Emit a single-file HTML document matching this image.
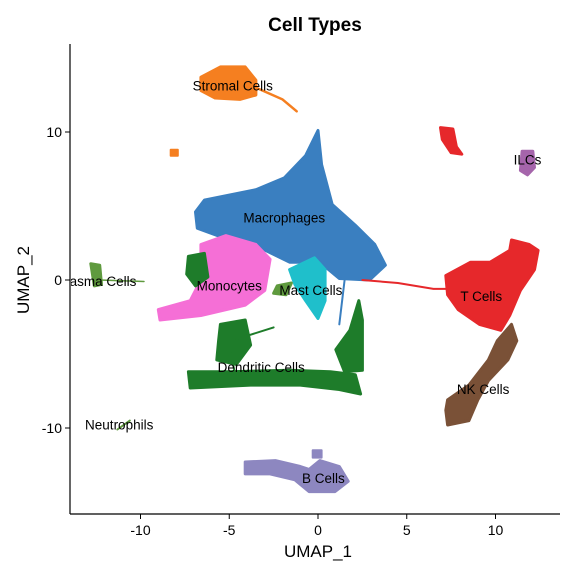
<!DOCTYPE html>
<html><head><meta charset="utf-8"><style>
body{margin:0;background:#fff}
svg{display:block;font-family:"Liberation Sans",Arial,sans-serif}
</style></head><body>
<svg id="chart" width="576" height="576" viewBox="0 0 576 576">
<defs><clipPath id="plotclip"><rect x="71" y="40" width="500" height="474"/></clipPath></defs>
<text x="315" y="31" text-anchor="middle" font-size="19" font-weight="bold">Cell Types</text>
<g id="marks" clip-path="url(#plotclip)"></g>
<g id="labels" clip-path="url(#plotclip)"></g>
<line x1="70" y1="44" x2="70" y2="514" stroke="#000" stroke-width="1.2"/>
<line x1="70" y1="514" x2="560" y2="514" stroke="#000" stroke-width="1.2"/>
<g id="axes"></g>
<text x="318" y="557" text-anchor="middle" font-size="17">UMAP_1</text>
<text x="29" y="280" text-anchor="middle" font-size="17" transform="rotate(-90 29 280)">UMAP_2</text>
</svg>
<script>
const xTicks = [-10, -5, 0, 5, 10];
const yTicks = [-10, 0, 10];
const clusterNames = ["Macrophages","Monocytes","Dendritic Cells","Mast Cells","T Cells","NK Cells","ILCs","B Cells","Stromal Cells","Plasma Cells","Neutrophils"];
const clusterColors = ["#3A7FC0","#F56FD6","#1E7C2A","#1FBFCB","#E6282B","#7A5137","#A565AB","#8D87C0","#F57F20","#5F9A3E","#5F9A3E"];
const macrophagePoly = [[-6.9,4.6],[-6.4,5.4],[-3.5,6.1],[-1.9,6.9],[-0.7,8.4],[0,10.1],[0.2,7.8],[0.8,5.1],[2.1,3.7],[3.2,2.4],[3.8,1.0],[2.9,0],[1.2,0.1],[0.1,1.2],[-1.6,1.2],[-3.3,2.2],[-5.2,2.8],[-6.8,3.5]];
const monocytePoly = [[-6.6,2.4],[-5.2,3.0],[-3.5,2.4],[-2.7,1.4],[-3.0,-0.7],[-4.1,-1.7],[-6.6,-2.4],[-8.9,-2.7],[-9.0,-2.0],[-7.2,-1.4],[-6.6,0],[-6.6,1.4]];
const dendriticBlob = [[-5.5,-3.0],[-4.1,-2.7],[-3.8,-4.4],[-4.6,-5.7],[-5.7,-5.4],[-5.6,-4.1]];
const dendriticBand = [[-7.3,-6.2],[-5.0,-6.2],[-1.6,-6.1],[0.7,-6.2],[2.1,-6.4],[2.4,-7.7],[1.2,-7.4],[-1.0,-7.1],[-3.8,-7.1],[-7.2,-7.3]];
const dendriticArm = [[1.0,-4.7],[1.8,-3.4],[2.3,-1.4],[2.5,-2.7],[2.5,-6.1],[1.5,-6.2]];
const dendriticLeft = [[-7.3,1.6],[-6.4,1.8],[-6.2,0.2],[-6.9,-0.4],[-7.4,0.4]];
const mastPoly = [[-1.6,0.7],[-0.2,1.5],[0.4,0.7],[0.4,-1.4],[0,-2.6],[-0.7,-1.4],[-1.3,-0.3]];
const tcellPoly = [[7.2,0.3],[8.6,1.2],[9.7,1.2],[10.8,2.0],[10.9,2.7],[11.9,2.4],[12.4,2.0],[12.2,0.7],[11.4,-0.7],[10.8,-2.4],[10.3,-3.4],[9.1,-3.0],[7.9,-2.0],[7.3,-1.0]];
const tcellTail = [[2.5,0],[4.5,-0.2],[6.5,-0.6],[7.5,-0.6]];
const tcellTop = [[6.9,10.3],[7.6,10.2],[7.8,9.0],[8.1,8.5],[7.5,8.6],[7.0,9.5]];
const nkPoly = [[7.3,-8.1],[8.5,-7.1],[9.6,-5.4],[10.1,-4.1],[10.9,-3.0],[11.2,-4.1],[10.7,-5.4],[9.6,-6.8],[9.0,-8.1],[8.5,-9.5],[7.3,-9.8],[7.2,-8.8]];
const ilcPoly = [[11.5,8.7],[12.1,8.7],[12.2,7.6],[11.8,7.1],[11.4,7.4]];
const bcellPoly = [[-4.1,-12.3],[-2.4,-12.2],[-1.0,-12.6],[-0.5,-12.8],[0.1,-12.2],[1.2,-12.6],[1.7,-13.6],[0.96,-14.3],[-0.5,-14.3],[-1.3,-13.5],[-2.7,-13.1],[-4.1,-13.1]];
const stromalPoly = [[-6.6,13.7],[-5.5,14.4],[-4.1,14.4],[-3.5,13.5],[-3.5,12.5],[-4.4,12.2],[-5.8,12.3],[-6.6,12.8]];
const stromalTail = [[-3.5,13.0],[-2.0,12.2],[-1.2,11.4]];
const plasmaPoly = [[-12.8,1.1],[-12.3,1.0],[-12.2,-0.3],[-12.6,-0.4]];
const plasmaTail = [[-12.3,0],[-9.8,-0.1]];
const neutroLine = [[-11.3,-10.1],[-10.6,-9.5]];
const labelText = ["Stromal Cells","Macrophages","Monocytes","Mast Cells","Dendritic Cells","T Cells","NK Cells","ILCs","B Cells","Neutrophils","Plasma Cells"];
const labelX = [-4.8,-1.9,-5.0,-0.4,-3.2,9.2,9.3,11.8,0.3,-11.2,-12.45];
const labelY = [13.1,4.2,-0.4,-0.7,-5.9,-1.1,-7.4,8.1,-13.4,-9.8,-0.1];

const xS = v => 318 + 17.75 * v;
const yS = v => 280 - 14.8 * v;
const NS = "http://www.w3.org/2000/svg";
const marks = document.getElementById('marks');
function poly(pts, color, name, sw) {
  const p = document.createElementNS(NS, 'path');
  p.setAttribute('d', 'M' + pts.map(q => xS(q[0]).toFixed(1) + ',' + yS(q[1]).toFixed(1)).join('L') + 'Z');
  p.setAttribute('fill', color);
  p.setAttribute('stroke', color);
  p.setAttribute('stroke-width', sw || 3);
  p.setAttribute('stroke-linejoin', 'round');
  
  
  marks.appendChild(p);
}
function line(pts, color, name, w) {
  const p = document.createElementNS(NS, 'path');
  p.setAttribute('d', 'M' + pts.map(q => xS(q[0]).toFixed(1) + ',' + yS(q[1]).toFixed(1)).join('L'));
  p.setAttribute('fill', 'none');
  p.setAttribute('stroke', color);
  p.setAttribute('stroke-width', w);
  p.setAttribute('stroke-linecap', 'round');
  
  
  marks.appendChild(p);
}
const C = clusterColors;
poly(macrophagePoly, C[0], 'cluster-macrophages');
line([[1.5,0],[1.2,-3]], C[0], 'macrophage-arm', 2);
poly(monocytePoly, C[1], 'cluster-monocytes');
poly(dendriticLeft, C[2], 'cluster-dendritic-left');
poly(dendriticBlob, C[2], 'cluster-dendritic-blob');
poly(dendriticBand, C[2], 'cluster-dendritic-band');
poly(dendriticArm, C[2], 'cluster-dendritic-arm');
line([[-4.6,-4],[-2.5,-3.2]], C[2], 'dendritic-strand', 2);
line([[-5,-4.5],[-4.7,-6.2]], C[2], 'dendritic-strand-2', 2);
poly(mastPoly, C[3], 'cluster-mast-cells');
poly([[-2.3,-0.4],[-1.5,-0.2],[-1.8,-1.0],[-2.5,-0.9]], C[9], 'cluster-mast-olive');
line(tcellTail, C[4], 't-cell-tail', 2);
poly(tcellPoly, C[4], 'cluster-t-cells');
poly(tcellTop, C[4], 'cluster-t-cells-top');
poly(nkPoly, C[5], 'cluster-nk-cells');
poly(ilcPoly, C[6], 'cluster-ilcs');
poly(bcellPoly, C[7], 'cluster-b-cells');
poly([[-0.3,-11.5],[0.2,-11.5],[0.2,-12],[-0.3,-12]], C[7], 'b-cell-dot', 2);
poly(stromalPoly, C[8], 'cluster-stromal-cells');
line(stromalTail, C[8], 'stromal-tail', 2.5);
poly([[-8.3,8.8],[-7.9,8.8],[-7.9,8.4],[-8.3,8.4]], C[8], 'stromal-dot', 2);
poly(plasmaPoly, C[9], 'cluster-plasma-cells');
line(plasmaTail, C[9], 'plasma-tail', 1.5);
line(neutroLine, C[10], 'cluster-neutrophils', 2);

const labels = document.getElementById('labels');
labelText.forEach((t, i) => {
  const el = document.createElementNS(NS, 'text');
  el.setAttribute('x', xS(labelX[i]));
  el.setAttribute('y', yS(labelY[i]) + 4.5);
  el.setAttribute('text-anchor', 'middle');
  el.setAttribute('font-size', '13.5');
  el.textContent = t;
  
  
  labels.appendChild(el);
});

const axes = document.getElementById('axes');
xTicks.forEach(v => {
  const l = document.createElementNS(NS, 'line');
  l.setAttribute('x1', xS(v)); l.setAttribute('x2', xS(v));
  l.setAttribute('y1', 514); l.setAttribute('y2', 519);
  l.setAttribute('stroke', '#000');
  
  
  axes.appendChild(l);
  const t = document.createElementNS(NS, 'text');
  t.setAttribute('x', xS(v)); t.setAttribute('y', 535);
  t.setAttribute('text-anchor', 'middle'); t.setAttribute('font-size', '14');
  t.textContent = v;
  
  
  axes.appendChild(t);
});
yTicks.forEach(v => {
  const l = document.createElementNS(NS, 'line');
  l.setAttribute('x1', 65); l.setAttribute('x2', 70);
  l.setAttribute('y1', yS(v)); l.setAttribute('y2', yS(v));
  l.setAttribute('stroke', '#000');
  
  
  axes.appendChild(l);
  const t = document.createElementNS(NS, 'text');
  t.setAttribute('x', 62); t.setAttribute('y', yS(v) + 5);
  t.setAttribute('text-anchor', 'end'); t.setAttribute('font-size', '14');
  t.textContent = v;
  
  
  axes.appendChild(t);
});
</script>
</body></html>
